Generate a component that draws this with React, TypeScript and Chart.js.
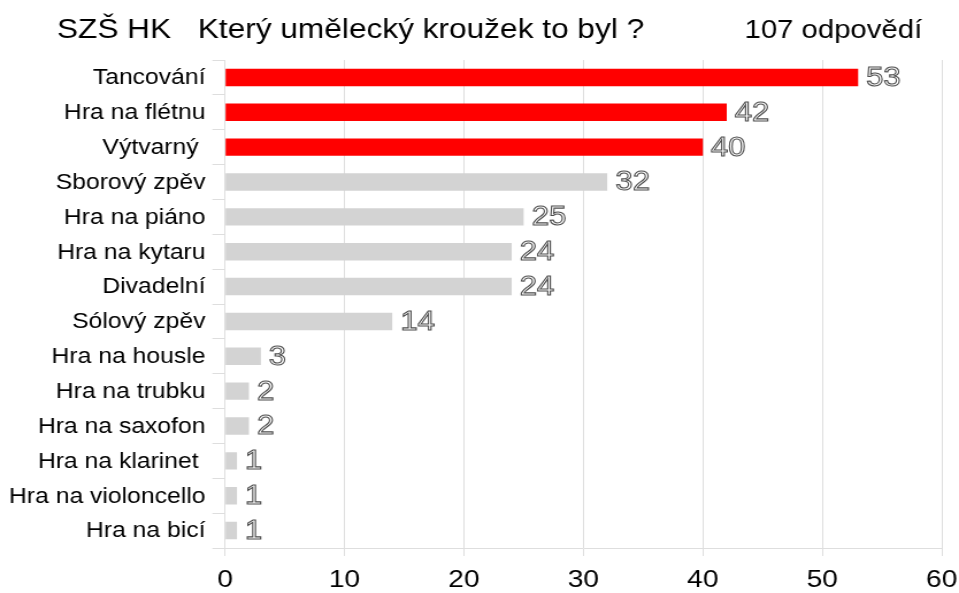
import React, { useEffect, useRef } from "react";
import { Chart, registerables } from "chart.js";

Chart.register(...registerables);

const categories = [
  "Tancování",
  "Hra na flétnu",
  "Výtvarný ",
  "Sborový zpěv",
  "Hra na piáno",
  "Hra na kytaru",
  "Divadelní",
  "Sólový zpěv",
  "Hra na housle",
  "Hra na trubku",
  "Hra na saxofon",
  "Hra na klarinet ",
  "Hra na violoncello",
  "Hra na bicí",
];
const answers = [53, 42, 40, 32, 25, 24, 24, 14, 3, 2, 2, 1, 1, 1];
const highlightedCount = 3;
const xTicks = [0, 10, 20, 30, 40, 50, 60];
const titleLeft = "SZŠ HK";
const titleMain = "Který umělecký kroužek to byl ?";
const titleRight = "107 odpovědí";

const FONT = "'Liberation Sans', Arial, sans-serif";
const W = 834;
const H = 593;

const overlayPlugin = {
  id: "overlay",
  afterDatasetsDraw(chart: any) {
    const ctx = chart.ctx;
    const meta = chart.getDatasetMeta(0);
    ctx.save();
    ctx.font = `27px ${FONT}`;
    ctx.textBaseline = "middle";
    ctx.textAlign = "left";
    ctx.lineWidth = 1.1;
    ctx.strokeStyle = "#4d4d4d";
    ctx.fillStyle = "#ffffff";
    meta.data.forEach((bar: any, i: number) => {
      const txt = String(answers[i]);
      const x = bar.x + 7;
      const y = bar.y + 1;
      ctx.fillText(txt, x, y);
      ctx.strokeText(txt, x, y);
    });
    ctx.restore();
  },
  afterDraw(chart: any) {
    const ctx = chart.ctx;
    ctx.save();
    ctx.fillStyle = "#000000";
    ctx.font = `27.5px ${FONT}`;
    ctx.textBaseline = "middle";
    ctx.textAlign = "left";
    ctx.fillText(titleLeft, 49.5, 30);
    ctx.fillText(titleMain, 172, 30);
    ctx.font = `25.5px ${FONT}`;
    ctx.textAlign = "right";
    ctx.fillText(titleRight, 802, 31);
    ctx.restore();
  },
};

export default function App() {
  const ref = useRef<HTMLCanvasElement | null>(null);
  useEffect(() => {
    const canvas = ref.current!;
    const chart = new Chart(canvas, {
      type: "bar",
      data: {
        labels: categories,
        datasets: [
          {
            data: answers,
            backgroundColor: answers.map((_, i) =>
              i < highlightedCount ? "#ff0000" : "#d3d3d3"
            ),
            borderWidth: 0,
            barPercentage: 0.5,
            categoryPercentage: 1,
          },
        ],
      },
      options: {
        indexAxis: "y",
        responsive: false,
        animation: false,
        devicePixelRatio: 1,
        layout: { padding: { top: 60, right: 15, left: 0, bottom: 0 } },
        plugins: {
          legend: { display: false },
          tooltip: { enabled: false },
          title: { display: false },
        },
        scales: {
          x: {
            type: "linear",
            min: 0,
            max: 60,
            afterBuildTicks(scale: any) {
              scale.ticks = xTicks.map((v) => ({ value: v }));
            },
            afterFit(scale: any) {
              scale.height = 45;
              scale.paddingLeft = 0;
              scale.paddingRight = 0;
            },
            grid: {
              color: "#dedede",
              lineWidth: 1,
              tickLength: 8,
              drawTicks: true,
            },
            border: { display: true, color: "#dedede" },
            ticks: {
              color: "#000000",
              font: { family: FONT, size: 24.5 },
              padding: 10,
            },
          },
          y: {
            type: "category",
            afterFit(scale: any) {
              scale.width = 195.7;
              scale.paddingTop = 0;
              scale.paddingBottom = 0;
            },
            grid: {
              offset: true,
              drawOnChartArea: false,
              drawTicks: true,
              tickLength: 11,
              color: "#dedede",
            },
            border: { display: true, color: "#dedede" },
            ticks: {
              color: "#000000",
              font: { family: FONT, size: 21.5 },
              padding: 6,
              labelOffset: 1,
              autoSkip: false,
            },
          },
        },
      },
      plugins: [overlayPlugin],
    } as any);
    return () => chart.destroy();
  }, []);
  return (
    <div
      style={{
        position: "fixed",
        left: 0,
        top: 0,
        width: 959,
        height: H,
        background: "#ffffff",
      }}
    >
      <canvas
        ref={ref}
        width={W}
        height={H}
        style={{ width: "959px", height: `${H}px`, display: "block" }}
      />
    </div>
  );
}
